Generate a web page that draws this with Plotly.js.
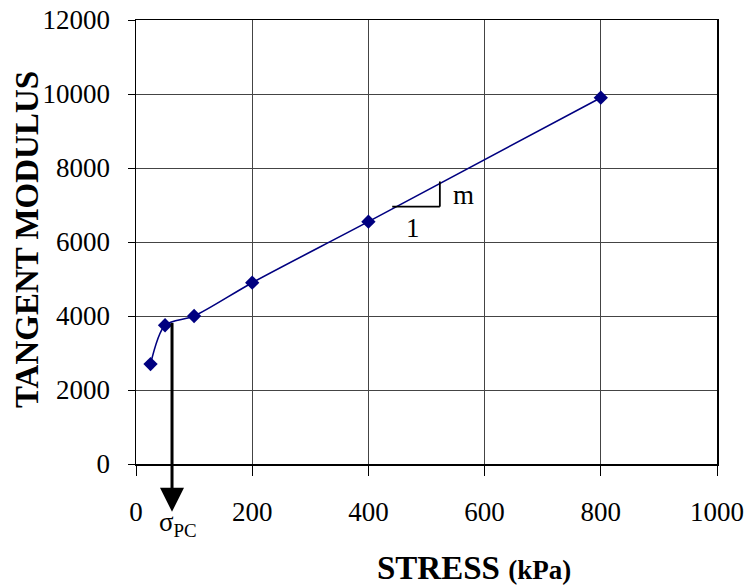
<!DOCTYPE html>
<html>
<head>
<meta charset="utf-8">
<script src="https://cdn.plot.ly/plotly-3.0.1.min.js"></script>
<style>html,body{margin:0;padding:0;background:#fff;}#chart{width:752px;height:587px;}</style>
</head>
<body>
<div id="chart"></div>
<script>
// Data
var stress = [25, 50, 100, 200, 400, 800];            // kPa
var tangentModulus = [2700, 3750, 4000, 4900, 6550, 9900];
var xTickVals = [0, 200, 400, 600, 800, 1000];
var yTickVals = [0, 2000, 4000, 6000, 8000, 10000, 12000];
var sigmaPC = 62;          // pre-consolidation stress marker (kPa)
var sigmaPCModulus = 3850; // where the arrow leaves the curve

var serif = 'Liberation Serif';

var trace = {
  x: stress,
  y: tangentModulus,
  type: 'scatter',
  mode: 'lines+markers',
  line: {color: '#000080', width: 1.6, shape: 'spline', smoothing: 0.8},
  marker: {symbol: 'diamond', size: 11, color: '#000080'},
  cliponaxis: false,
  hoverinfo: 'x+y'
};

var plotW = 581, plotH = 444;
function pyFromPx(px) { return -(px - 464) / plotH; }
function pxFromPx(px) { return (px - 136) / plotW; }

var layout = {
  width: 752, height: 587,
  margin: {l: 136, r: 35, t: 20, b: 123},
  paper_bgcolor: '#fff', plot_bgcolor: '#fff',
  showlegend: false,
  font: {family: serif, color: '#000'},
  xaxis: {
    range: [0, 1000], tickvals: xTickVals, ticktext: xTickVals.map(String),
    showgrid: true, gridcolor: '#444', gridwidth: 1,
    showline: true, linecolor: '#000', linewidth: 1.5, mirror: true,
    zeroline: false,
    ticks: 'outside', ticklen: 10, tickcolor: '#000', tickwidth: 1,
    ticklabelstandoff: 13,
    tickfont: {family: serif, size: 27, color: '#000'}
  },
  yaxis: {
    range: [0, 12000], tickvals: yTickVals, ticktext: yTickVals.map(String),
    showgrid: true, gridcolor: '#444', gridwidth: 1,
    showline: true, linecolor: '#000', linewidth: 1.5, mirror: true,
    zeroline: false,
    ticks: 'outside', ticklen: 7, tickcolor: '#000', tickwidth: 1,
    ticklabelstandoff: 12,
    tickfont: {family: serif, size: 27, color: '#000'}
  },
  shapes: [
    {type: 'line', xref: 'x', yref: 'y', x0: 441, y0: 6955, x1: 523, y1: 6955, line: {color: '#000', width: 1.8}},
    {type: 'line', xref: 'x', yref: 'y', x0: 523, y0: 6955, x1: 523, y1: 7636, line: {color: '#000', width: 1.8}}
  ],
  annotations: [
    {x: sigmaPC, y: -1290, xref: 'x', yref: 'y', ax: sigmaPC, ay: sigmaPCModulus, axref: 'x', ayref: 'y',
     showarrow: true, arrowhead: 2, arrowsize: 1.6, arrowwidth: 3, arrowcolor: '#000', text: ''},
    {x: 0.072, y: pyFromPx(524), xref: 'paper', yref: 'paper', text: 'σ<sub>PC</sub>', showarrow: false,
     font: {family: serif, size: 27, color: '#000'}, xanchor: 'center', yanchor: 'middle'},
    {x: 563, y: 7279, xref: 'x', yref: 'y', text: 'm', showarrow: false,
     font: {family: serif, size: 27, color: '#000'}},
    {x: 477, y: 6387, xref: 'x', yref: 'y', text: '1', showarrow: false,
     font: {family: serif, size: 27, color: '#000'}},
    {x: pxFromPx(474), y: pyFromPx(568), xref: 'paper', yref: 'paper', showarrow: false,
     xanchor: 'center', yanchor: 'middle',
     text: '<b>STRESS <span style="font-size:27px">(kPa)</span></b>',
     font: {family: serif, size: 33, color: '#000'}},
    {x: pxFromPx(27), y: pyFromPx(240), xref: 'paper', yref: 'paper', showarrow: false,
     xanchor: 'center', yanchor: 'middle', textangle: -90,
     text: '<b>TANGENT MODULUS</b>',
     font: {family: serif, size: 33, color: '#000'}}
  ]
};

Plotly.newPlot('chart', [trace], layout, {displayModeBar: false, staticPlot: true});
</script>
</body>
</html>
